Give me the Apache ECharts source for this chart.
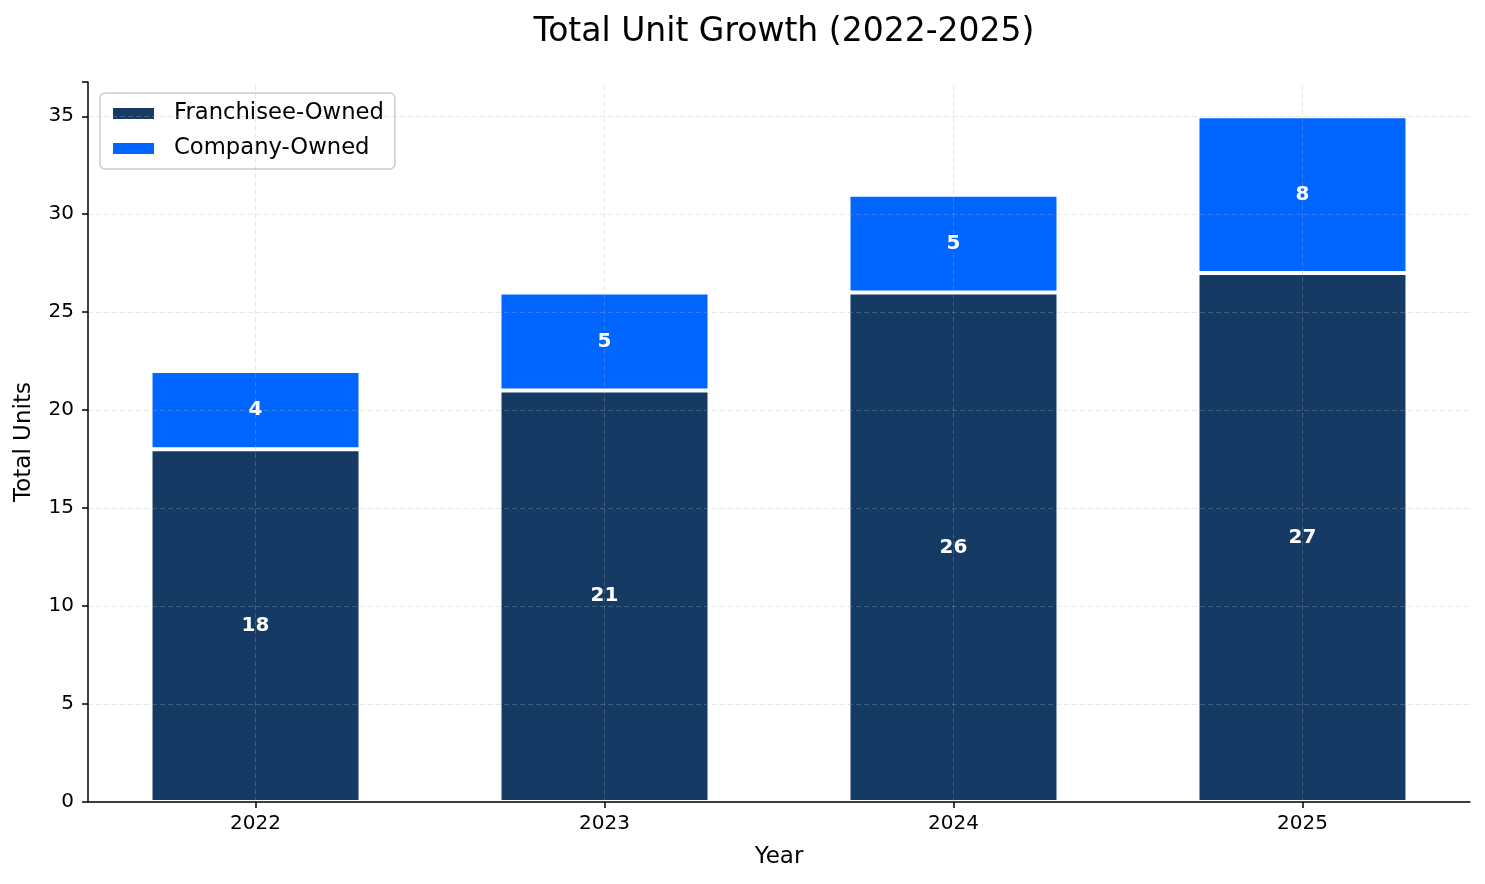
<!DOCTYPE html>
<html><head><meta charset="utf-8">
<script src="https://cdn.jsdelivr.net/npm/echarts@6/dist/echarts.min.js"></script>
<style>html,body{margin:0;padding:0;background:#fff}#c{width:1485px;height:884px}</style>
</head><body><div id="c"></div>
<script>
const years = ['2022', '2023', '2024', '2025'];
const franchiseeOwned = [18, 21, 26, 27];
const companyOwned = [4, 5, 5, 8];
const yTicks = [0, 5, 10, 15, 20, 25, 30, 35];

const FONT = 'DejaVu Sans';
const gridLineStyle = { color: 'rgba(176,176,176,0.3)', type: [5, 3], width: 1 };
const idx = years.map((y, i) => i);

const chart = echarts.init(document.getElementById('c'), null, { renderer: 'canvas' });
chart.setOption({
  animation: false,
  backgroundColor: '#fff',
  textStyle: { fontFamily: FONT },
  title: {
    text: 'Total Unit Growth (2022-2025)',
    left: 779, top: 11, textAlign: 'center',
    textStyle: { fontFamily: FONT, fontSize: 33, fontWeight: 'normal', color: '#000' }
  },
  legend: {
    orient: 'vertical', left: 100, top: 93,
    padding: [8, 11, 8, 11],
    borderColor: '#cccccc', borderWidth: 1.5, borderRadius: 5,
    backgroundColor: 'rgba(255,255,255,0.8)',
    itemWidth: 43, itemHeight: 13, itemGap: 10,
    icon: 'rect',
    textStyle: { fontFamily: FONT, fontSize: 22.7, color: '#000', padding: [0, 0, 0, 14], lineHeight: 25 },
    data: ['Franchisee-Owned', 'Company-Owned']
  },
  grid: { left: 88, right: 15, top: 82, bottom: 82, containLabel: false },
  xAxis: {
    type: 'value', min: -0.48, max: 3.48, z: 10,
    name: 'Year', nameLocation: 'middle', nameGap: 44,
    nameTextStyle: { fontFamily: FONT, fontSize: 23, color: '#000' },
    axisLine: { show: true, onZero: false, lineStyle: { color: '#000', width: 1.5 } },
    axisTick: { show: true, inside: false, length: 6, lineStyle: { color: '#000', width: 1.5 }, customValues: idx },
    axisLabel: { show: true, margin: 12, fontFamily: FONT, fontSize: 20, color: '#000', customValues: idx,
      formatter: v => years[Math.round(v)] },
    splitLine: { show: false }
  },
  yAxis: {
    type: 'value', min: 0, max: 36.75, interval: 5, z: 10,
    name: 'Total Units', nameLocation: 'middle', nameGap: 52,
    nameTextStyle: { fontFamily: FONT, fontSize: 23, color: '#000' },
    axisLine: { show: true, onZero: false, lineStyle: { color: '#000', width: 1.5 } },
    axisTick: { show: true, inside: false, length: 6, lineStyle: { color: '#000', width: 1.5 } },
    axisLabel: { margin: 14, fontFamily: FONT, fontSize: 20, color: '#000',
      formatter: v => (yTicks.indexOf(v) >= 0 ? String(v) : '') },
    splitLine: { show: false }
  },
  series: [
    {
      name: 'Franchisee-Owned', type: 'bar', stack: 'units', barWidth: 210,
      encode: { x: 1, y: 0 },
      data: franchiseeOwned.map((v, i) => [v, i]),
      itemStyle: { color: '#153A63', borderColor: '#ffffff', borderWidth: 2 },
      label: { show: true, position: 'inside', color: '#fff', fontWeight: 'bold', fontSize: 20, fontFamily: FONT,
        formatter: p => String(p.value[0]) }
    },
    {
      name: 'Company-Owned', type: 'bar', stack: 'units', barWidth: 210,
      encode: { x: 1, y: 0 },
      data: companyOwned.map((v, i) => [v, i]),
      itemStyle: { color: '#0066FF', borderColor: '#ffffff', borderWidth: 2 },
      label: { show: true, position: 'inside', color: '#fff', fontWeight: 'bold', fontSize: 20, fontFamily: FONT,
        formatter: p => String(p.value[0]) },
      markLine: {
        silent: true, symbol: 'none', label: { show: false },
        lineStyle: gridLineStyle,
        data: yTicks.map(v => ({ yAxis: v })).concat(idx.map(i => ({ xAxis: i })))
      }
    }
  ]
});
</script></body></html>
